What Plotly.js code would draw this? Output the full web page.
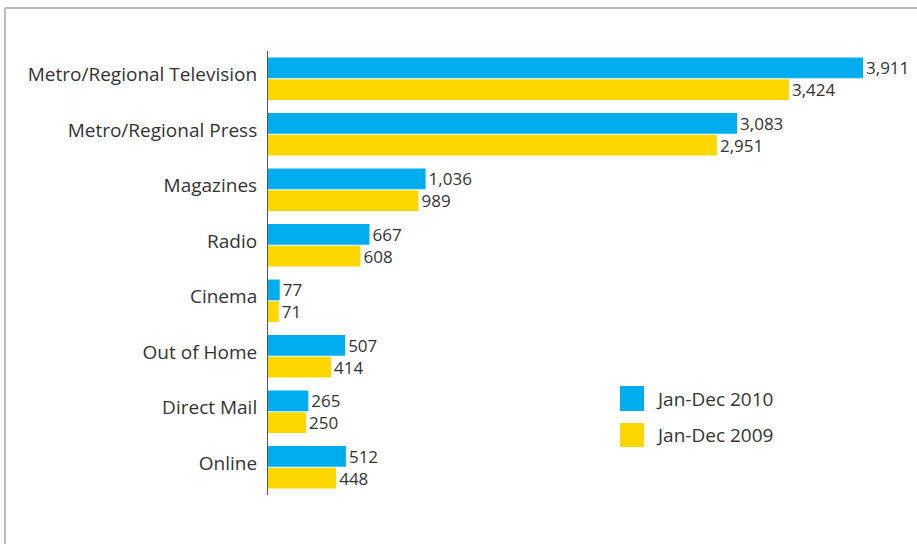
<!DOCTYPE html>
<html><head><meta charset="utf-8">
<script src="https://cdn.plot.ly/plotly-3.0.1.min.js"></script>
<style>html,body{margin:0;padding:0;background:#fff}</style>
</head><body>
<div id="chart" style="width:917px;height:544px"></div>
<script>
var categories = ["Metro/Regional Television","Metro/Regional Press","Magazines","Radio","Cinema","Out of Home","Direct Mail","Online"];
var values2010 = [3911,3083,1036,667,77,507,265,512];
var values2009 = [3424,2951,989,608,71,414,250,448];
var seriesNames = ["Jan-Dec 2010","Jan-Dec 2009"];
var colors = ["#00aeef","#ffd700"];

var W=917,H=544,L=268,R=10,T=51,B=49;
var pw=W-L-R, ph=H-T-B;
function px(x){return (x-L)/pw;}
function py(y){return (H-B-y)/ph;}

var fam = "Open Sans, sans-serif";
var font = {family:fam, size:17, color:"#333"};
var traces = [values2010, values2009].map(function(v,i){
  return {type:"bar", orientation:"h", y:categories, x:v, name:seriesNames[i],
    marker:{color:colors[i]}, text:v.map(function(d){return d.toLocaleString("en-US");}),
    textposition:"outside", textfont:font, outsidetextfont:font, constraintext:"none",
    cliponaxis:false, hoverinfo:"none"};
});

var shapes = [
  {type:"line", xref:"paper", yref:"paper", x0:px(5), x1:px(930), y0:py(8), y1:py(8), line:{color:"#bdbdbd", width:2}},
  {type:"line", xref:"paper", yref:"paper", x0:px(5), x1:px(5), y0:py(8), y1:py(560), line:{color:"#bdbdbd", width:2}},
  {type:"rect", xref:"paper", yref:"paper", x0:px(620), x1:px(644), y0:py(386), y1:py(411), fillcolor:colors[0], line:{width:0}},
  {type:"rect", xref:"paper", yref:"paper", x0:px(620), x1:px(644), y0:py(423), y1:py(447), fillcolor:colors[1], line:{width:0}}
];
var annotations = [
  {xref:"paper", yref:"paper", x:px(654), y:py(398.5), xanchor:"left", yanchor:"middle", text:seriesNames[0], showarrow:false, font:{family:fam,size:19,color:"#333"}},
  {xref:"paper", yref:"paper", x:px(654), y:py(435), xanchor:"left", yanchor:"middle", text:seriesNames[1], showarrow:false, font:{family:fam,size:19,color:"#333"}}
];

var layout = {
  width:W, height:H, margin:{l:L,r:R,t:T,b:B,pad:0},
  paper_bgcolor:"#fff", plot_bgcolor:"#fff",
  barmode:"group", bargap:0.22, bargroupgap:0.04,
  showlegend:false,
  xaxis:{range:[0,4200], visible:false, showgrid:false, zeroline:false},
  yaxis:{autorange:"reversed", showline:true, linecolor:"#555", linewidth:1, ticks:"", ticklabelstandoff:6, ticklabelshift:4, tickfont:{family:fam,size:19,color:"#333"}, showgrid:false},
  shapes:shapes, annotations:annotations, font:font
};
Plotly.newPlot("chart", traces, layout, {staticPlot:true});
</script>
</body></html>
